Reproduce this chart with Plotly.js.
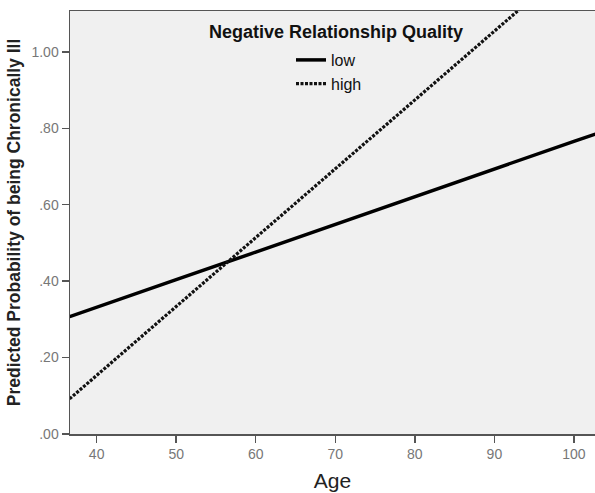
<!DOCTYPE html>
<html>
<head>
<meta charset="utf-8">
<script src="https://cdn.plot.ly/plotly-3.0.1.min.js"></script>
<style>html,body{margin:0;padding:0;background:#fff;}#chart{width:595px;height:493px;}</style>
</head>
<body>
<div id="chart"></div>
<script>
var ages = [36.6, 40, 50, 60, 70, 80, 90, 100, 102.7];
var lowQuality = [0.307, 0.332, 0.404, 0.476, 0.549, 0.621, 0.693, 0.766, 0.785];
var highQuality = [0.092, 0.153, 0.333, 0.514, 0.694, 0.874, 1.054, 1.234, 1.283];
var seriesNames = ['low', 'high'];
var legendTitle = 'Negative Relationship Quality';
var xTicks = [40, 50, 60, 70, 80, 90, 100];
var yTicks = [0, 0.2, 0.4, 0.6, 0.8, 1.0];
var yTickText = ['.00', '.20', '.40', '.60', '.80', '1.00'];

var traces = [
  {x: ages, y: lowQuality, name: seriesNames[0], type: 'scatter', mode: 'lines',
   line: {color: '#000', width: 3.5}, cliponaxis: true},
  {x: ages, y: highQuality, name: seriesNames[1], type: 'scatter', mode: 'lines',
   line: {color: '#111', width: 3.2, dash: '3px,1.5px'}, cliponaxis: true}
];

var layout = {
  width: 595, height: 493,
  margin: {l: 70, r: 0, t: 11, b: 59},
  paper_bgcolor: '#ffffff',
  plot_bgcolor: '#f0f0f0',
  font: {family: 'Liberation Sans, Arial, sans-serif', color: '#000'},
  showlegend: true,
  legend: {
    x: (291 - 70) / 525, y: (434 - 43) / 423, xanchor: 'left', yanchor: 'top',
    bgcolor: 'rgba(0,0,0,0)', font: {size: 16, color: '#111'},
    itemwidth: 30, tracegroupgap: 0
  },
  annotations: [{
    text: '<b>' + legendTitle + '</b>', xref: 'paper', yref: 'paper',
    x: (336 - 70) / 525, y: (434 - 32) / 423, xanchor: 'center', yanchor: 'middle',
    showarrow: false, font: {size: 18, color: '#111'}
  }],
  xaxis: {
    range: [36.65, 102.65],
    tickvals: xTicks, ticktext: xTicks.map(String),
    showgrid: false, zeroline: false,
    showline: true, linecolor: '#555', linewidth: 1.5, mirror: true,
    ticks: 'outside', ticklen: 7, tickcolor: '#555', tickwidth: 1.5,
    tickfont: {size: 14, color: '#777'},
    title: {text: 'Age', font: {size: 21, color: '#222'}, standoff: 12}
  },
  yaxis: {
    range: [0, 1.107],
    tickvals: yTicks, ticktext: yTickText,
    showgrid: false, zeroline: false,
    showline: true, linecolor: '#555', linewidth: 1.5, mirror: false,
    ticks: 'outside', ticklen: 7, tickcolor: '#555', tickwidth: 1.5,
    tickfont: {size: 14, color: '#777'},
    title: {text: '<b>Predicted Probability of being Chronically Ill</b>', font: {size: 17.5, color: '#222'}, standoff: 6}
  }
};

Plotly.newPlot('chart', traces, layout, {staticPlot: true, displayModeBar: false});
</script>
</body>
</html>
